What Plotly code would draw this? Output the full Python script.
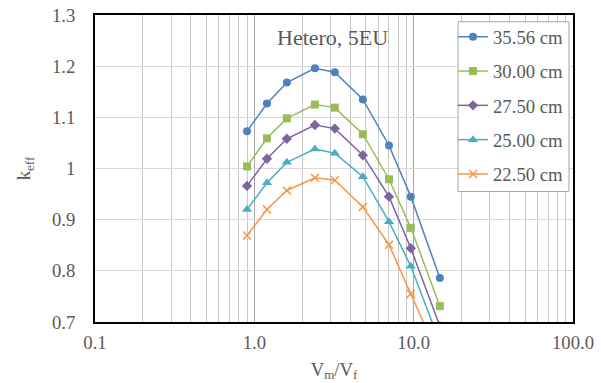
import plotly.graph_objects as go

# Moderator-to-fuel volume ratio
vm_vf = [0.9, 1.2, 1.6, 2.4, 3.2, 4.8, 7.0, 9.6, 14.6]

# k_eff for each core height
labels = ["35.56 cm", "30.00 cm", "27.50 cm", "25.00 cm", "22.50 cm"]
k_3556 = [1.073, 1.127, 1.168, 1.196, 1.188, 1.135, 1.045, 0.945, 0.786]
k_3000 = [1.004, 1.059, 1.098, 1.125, 1.119, 1.067, 0.979, 0.884, 0.731]
k_2750 = [0.966, 1.019, 1.058, 1.085, 1.078, 1.026, 0.945, 0.844, 0.692]
k_2500 = [0.920, 0.972, 1.012, 1.038, 1.030, 0.984, 0.896, 0.809, 0.660]
k_2250 = [0.869, 0.920, 0.957, 0.982, 0.977, 0.925, 0.851, 0.755, 0.627]

x_ticks = [0.1, 1, 10, 100]
x_tick_text = ["0.1", "1.0", "10.0", "100.0"]
x_minor = [m * d for d in (0.1, 1, 10) for m in range(2, 10)]

series = [k_3556, k_3000, k_2750, k_2500, k_2250]
colors = ["#4F81BD", "#9BBB59", "#8064A2", "#4BACC6", "#F79646"]
symbols = ["circle", "square", "diamond", "triangle-up", "x-thin"]
sizes = [8, 8, 8, 9, 8]

FONT = "Times New Roman"
TXT = "#595959"
tick_font = dict(family=FONT, size=18.7, color=TXT)

fig = go.Figure()
for i, (name, ys) in enumerate(zip(labels, series)):
    mk = dict(symbol=symbols[i], size=sizes[i], color=colors[i])
    if symbols[i] == "x-thin":
        mk["line"] = dict(color=colors[i], width=1.5)
    fig.add_trace(go.Scatter(
        x=vm_vf, y=ys, name=name, mode="lines+markers",
        line=dict(color=colors[i], width=1.5),
        marker=mk, legendgroup=name,
    ))

fig.update_layout(
    width=601, height=383,
    margin=dict(l=95, r=28, t=15, b=61, autoexpand=False),
    paper_bgcolor="white", plot_bgcolor="white",
    font=dict(family=FONT, size=18.7, color=TXT),
    showlegend=True,
    legend=dict(
        x=0.749, y=0.99, xanchor="left", yanchor="top",
        borderwidth=0, bgcolor="rgba(0,0,0,0)",
        font=dict(family=FONT, size=18.7, color=TXT),
        tracegroupgap=7, itemwidth=30,
    ),
    # legend frame
    shapes=[dict(
        type="rect", xref="paper", yref="paper",
        x0=0.7596, x1=0.9916, y0=0.425, y1=0.978,
        line=dict(color="#A6A6A6", width=1), fillcolor="white", layer="above",
    )],
    annotations=[dict(
        text="Hetero, 5EU", x=0.496, y=0.926, xref="paper", yref="paper",
        xanchor="center", yanchor="middle",
        showarrow=False, font=dict(family=FONT, size=22, color=TXT),
    )],
)

fig.update_xaxes(
    type="log", range=[-1, 2], automargin=False,
    tickmode="array", tickvals=x_ticks, ticktext=x_tick_text,
    tickfont=tick_font,
    showgrid=True, gridcolor="#A6A6A6", gridwidth=1,
    minor=dict(tickmode="array", tickvals=x_minor, showgrid=True,
               gridcolor="#C8C8C8", gridwidth=1),
    showline=True, linecolor="black", linewidth=2, mirror=True,
    ticks="outside", ticklen=3, tickcolor="rgba(0,0,0,0)",
    title=dict(text="V<sub>m</sub>/V<sub>f</sub>", standoff=10,
               font=dict(family=FONT, size=18.7, color=TXT)),
    zeroline=False,
)
fig.update_yaxes(
    range=[0.7, 1.3], dtick=0.1, tick0=0.7, automargin=False,
    tickfont=tick_font,
    showgrid=True, gridcolor="#D9D9D9", gridwidth=1,
    showline=True, linecolor="black", linewidth=2, mirror=True,
    ticks="outside", ticklen=14, tickcolor="rgba(0,0,0,0)",
    title=dict(text="k<sub>eff</sub>", standoff=16,
               font=dict(family=FONT, size=18.7, color=TXT)),
    zeroline=False,
)

fig.write_html("out.html")
